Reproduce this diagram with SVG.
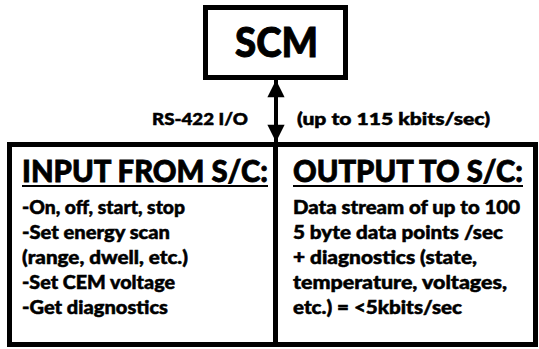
<svg xmlns="http://www.w3.org/2000/svg" width="539" height="349" viewBox="0 0 539 349">
  <style>
    .box { fill: #ffffff; stroke: #000000; stroke-width: 5; }
    .t { font-family: Lato, "Open Sans", "Liberation Sans", sans-serif; font-weight: 900; fill: #000000; stroke: #000000; stroke-width: 0.5; }
    .title { font-size: 41px; stroke-width: 0.9; }
    .head { font-size: 31px; stroke-width: 0.8; }
    .body { font-size: 18.3px; }
    .lbl { font-size: 17.5px; }
    .ul { stroke: #000000; stroke-width: 2; }
    .conn { stroke: #000000; stroke-width: 4; fill: none; }
  </style>
  <defs>
    <marker id="arrowHead" viewBox="0 0 10 10" refX="10" refY="5" markerWidth="4.6" markerHeight="4.3" orient="auto-start-reverse" markerUnits="strokeWidth">
      <path d="M0,0 L10,5 L0,10 Z" fill="#000000"/>
    </marker>
  </defs>
  <rect width="539" height="349" fill="#ffffff"/>

  <!-- SCM controller -->
  <g id="scm">
    <rect class="box" x="205.5" y="7.5" width="140" height="70"/>
    <text class="t title" x="235" y="57" textLength="83" lengthAdjust="spacingAndGlyphs">SCM</text>
  </g>

  <!-- spacecraft interface panel -->
  <g id="sc-interface">
    <rect class="box" x="9.5" y="144.5" width="526" height="200"/>
    <line x1="275.5" y1="147" x2="275.5" y2="342" stroke="#000000" stroke-width="5"/>
  </g>

  <g id="input-from-sc">
    <text class="t head" x="22" y="182" textLength="246" lengthAdjust="spacingAndGlyphs">INPUT FROM S/C:</text>
    <line class="ul" x1="22" y1="186" x2="268" y2="186"/>
    <text class="t body" x="22" y="214" textLength="163" lengthAdjust="spacingAndGlyphs">-On, off, start, stop</text>
    <text class="t body" x="22" y="239" textLength="148" lengthAdjust="spacingAndGlyphs">-Set energy scan</text>
    <text class="t body" x="22" y="264" textLength="166" lengthAdjust="spacingAndGlyphs">(range, dwell, etc.)</text>
    <text class="t body" x="22" y="289" textLength="153" lengthAdjust="spacingAndGlyphs">-Set CEM voltage</text>
    <text class="t body" x="22" y="314" textLength="146" lengthAdjust="spacingAndGlyphs">-Get diagnostics</text>
  </g>

  <g id="output-to-sc">
    <text class="t head" x="293" y="182" textLength="230" lengthAdjust="spacingAndGlyphs">OUTPUT TO S/C:</text>
    <line class="ul" x1="293" y1="186" x2="523" y2="186"/>
    <text class="t body" x="293" y="214" textLength="227" lengthAdjust="spacingAndGlyphs">Data stream of up to 100</text>
    <text class="t body" x="293" y="239" textLength="210" lengthAdjust="spacingAndGlyphs">5 byte data points /sec</text>
    <text class="t body" x="293" y="264" textLength="184" lengthAdjust="spacingAndGlyphs">+ diagnostics (state,</text>
    <text class="t body" x="293" y="289" textLength="214" lengthAdjust="spacingAndGlyphs">temperature, voltages,</text>
    <text class="t body" x="293" y="314" textLength="169" lengthAdjust="spacingAndGlyphs">etc.) = &lt;5kbits/sec</text>
  </g>

  <!-- RS-422 link -->
  <g id="connectors">
    <line class="conn" x1="276" y1="80" x2="276" y2="142" marker-start="url(#arrowHead)" marker-end="url(#arrowHead)"/>
  </g>
  <g id="link-labels">
    <text class="t lbl" x="152" y="125" textLength="96" lengthAdjust="spacingAndGlyphs">RS-422 I/O</text>
    <text class="t lbl" x="297" y="125" textLength="193" lengthAdjust="spacingAndGlyphs">(up to 115 kbits/sec)</text>
  </g>
</svg>
